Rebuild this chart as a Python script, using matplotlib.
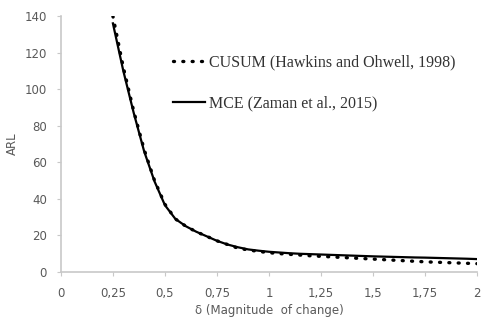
import matplotlib
matplotlib.use("Agg")
import matplotlib.pyplot as plt
from matplotlib.ticker import FuncFormatter

delta = [0.25, 0.30, 0.35, 0.40, 0.45, 0.50, 0.55, 0.60, 0.65, 0.70, 0.75,
         0.80, 0.85, 0.90, 0.95, 1.00, 1.05, 1.10, 1.15, 1.20, 1.25, 1.30,
         1.35, 1.40, 1.45, 1.50, 1.55, 1.60, 1.65, 1.70, 1.75, 1.80, 1.85,
         1.90, 1.95, 2.00]
arl_cusum = [140, 112, 88, 67, 50, 37, 29, 25, 22, 19.5, 17,
             15, 13, 12, 11.2, 10.5, 10, 9.6, 9.2, 8.8, 8.5, 8.2,
             7.9, 7.6, 7.3, 7.0, 6.7, 6.4, 6.1, 5.8, 5.5, 5.3, 5.1,
             4.9, 4.7, 4.5]
arl_mce = [136, 110, 87, 66, 49.5, 36.5, 29, 25, 22, 19.5, 17,
           15, 13.5, 12.3, 11.6, 11, 10.6, 10.2, 9.9, 9.7, 9.5, 9.3,
           9.1, 8.9, 8.7, 8.5, 8.35, 8.2, 8.05, 7.9, 7.8, 7.65, 7.5,
           7.35, 7.2, 7.0]

xticks = [0, 0.25, 0.5, 0.75, 1, 1.25, 1.5, 1.75, 2]
yticks = [0, 20, 40, 60, 80, 100, 120, 140]

fig = plt.figure(figsize=(4.83, 3.21), dpi=100)
ax = fig.add_axes([0.126, 0.153, 0.862, 0.797])

ax.plot(delta, arl_cusum, color="black", linestyle=(0, (0.3, 2.5)),
        dash_capstyle="round", linewidth=2.4,
        label="CUSUM (Hawkins and Ohwell, 1998)")
ax.plot(delta, arl_mce, color="black", linewidth=1.6,
        label="MCE (Zaman et al., 2015)")

ax.set_xlim(0, 2)
ax.set_ylim(0, 140)
ax.set_xticks(xticks)
ax.set_yticks(yticks)
ax.xaxis.set_major_formatter(FuncFormatter(lambda v, p: f"{v:g}".replace(".", ",")))

for s in ["top", "right"]:
    ax.spines[s].set_visible(False)
for s in ["left", "bottom"]:
    ax.spines[s].set_color("#c8c8c8")
    ax.spines[s].set_linewidth(1.2)
ax.tick_params(colors="#c8c8c8", labelcolor="#595959", labelsize=8.5,
               length=3, direction="out")
ax.tick_params(axis="x", pad=8)
ax.tick_params(axis="y", pad=7)

ax.set_ylabel("ARL", fontsize=8.5, color="#595959", labelpad=4)
ax.set_xlabel("δ (Magnitude  of change)", fontsize=8.5, color="#595959", labelpad=3)

leg = ax.legend(loc="upper left", bbox_to_anchor=(0.235, 0.905), frameon=False,
                prop={"family": "Liberation Serif", "size": 11.5},
                handlelength=2.0, handletextpad=0.25, labelspacing=1.55)
for t in leg.get_texts():
    t.set_color("#333333")

fig.savefig("out.png", dpi=100)
